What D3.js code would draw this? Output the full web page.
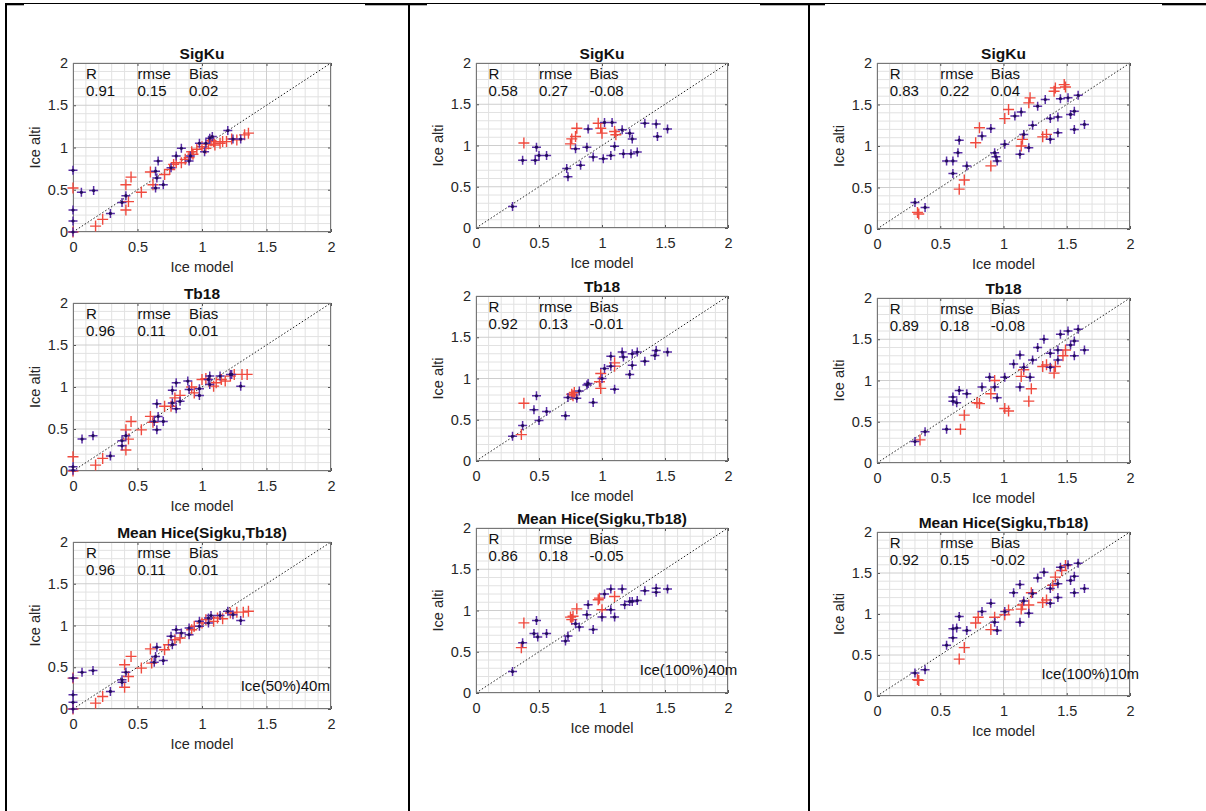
<!DOCTYPE html>
<html>
<head>
<meta charset="utf-8">
<script src="https://cdn.jsdelivr.net/npm/d3@7"></script>
<style>
  body { margin: 0; background: #fff; }
  svg { display: block; font-family: "Liberation Sans", Arial, Helvetica, sans-serif; }
</style>
</head>
<body>
<svg id="fig" width="1206" height="811"></svg>
<script>
// ---- Ice thickness comparison: altimetry retrieval vs. model ----
// Axis ticks shared by all panels
const tickValues = [0, 0.5, 1, 1.5, 2];
const rowTitles = ["SigKu", "Tb18", "Mean Hice(Sigku,Tb18)"];
const caseLabels = ["Ice(50%)40m", "Ice(100%)40m", "Ice(100%)10m"];
const xLabel = "Ice model";
const yLabel = "Ice alti";

// Scores, one list per case (rows: SigKu, Tb18, Mean)
const statR    = [[0.91, 0.96, 0.96], [0.58, 0.92, 0.86], [0.83, 0.89, 0.92]];
const statRmse = [[0.15, 0.11, 0.11], [0.27, 0.13, 0.18], [0.22, 0.18, 0.15]];
const statBias = [[0.02, 0.01, 0.01], [-0.08, -0.01, -0.05], [0.04, -0.08, -0.02]];

// Case 1: Ice(50%)40m  -- [model, alti]
const c1SigkuRed = [[0,0.52],[0,0],[0.175,0.07],[0.23,0.15],[0.41,0.56],[0.41,0.26],[0.43,0.36],[0.45,0.65],[0.53,0.47],[0.6,0.71],[0.62,0.56],[0.71,0.68],[0.75,0.74],[0.78,0.8],[0.8,0.82],[0.84,0.82],[0.87,0.86],[0.9,0.88],[0.92,0.95],[0.93,0.92],[0.96,0.98],[1.0,1.01],[1.03,0.99],[1.05,1.04],[1.07,1.08],[1.09,1.07],[1.1,1.03],[1.14,1.05],[1.16,1.07],[1.19,1.07],[1.23,1.1],[1.27,1.09],[1.33,1.15],[1.36,1.17]];
const c1SigkuBlue = [[0,0.73],[0,0.26],[0,0.13],[0,0],[0.065,0.47],[0.16,0.49],[0.29,0.22],[0.38,0.35],[0.41,0.43],[0.64,0.52],[0.64,0.72],[0.65,0.64],[0.66,0.84],[0.7,0.56],[0.76,0.76],[0.8,0.9],[0.84,0.99],[0.9,0.84],[0.91,0.9],[0.98,1.05],[1.02,0.95],[1.03,1.05],[1.06,1.11],[1.08,1.13],[1.2,1.2],[1.24,1.1],[1.3,1.1]];
const c1TbRed = [[0,0.17],[0,0],[0.175,0.07],[0.23,0.15],[0.41,0.49],[0.41,0.25],[0.43,0.38],[0.45,0.59],[0.53,0.49],[0.6,0.65],[0.62,0.58],[0.71,0.77],[0.76,0.77],[0.79,0.87],[0.83,0.9],[0.92,1.0],[0.94,0.93],[1.0,1.09],[1.03,1.1],[1.09,1.01],[1.11,1.05],[1.15,1.09],[1.18,1.07],[1.22,1.13],[1.25,1.15],[1.31,1.15],[1.35,1.15]];
const c1TbBlue = [[0,0.01],[0,0.05],[0.07,0.38],[0.155,0.42],[0.29,0.18],[0.38,0.3],[0.38,0.36],[0.41,0.42],[0.63,0.59],[0.65,0.8],[0.65,0.49],[0.66,0.65],[0.7,0.59],[0.77,0.81],[0.8,0.74],[0.8,1.05],[0.77,0.96],[0.83,0.83],[0.89,1.07],[0.9,0.97],[0.98,0.9],[0.98,0.98],[1.05,1.09],[1.06,1.13],[1.06,1.03],[1.14,1.13],[1.22,1.15],[1.23,1.15],[1.3,1.01]];
const c1MeanRed = [[0,0.37],[0,0],[0.175,0.07],[0.23,0.15],[0.4,0.53],[0.4,0.26],[0.43,0.39],[0.45,0.63],[0.53,0.49],[0.6,0.72],[0.61,0.55],[0.71,0.71],[0.74,0.77],[0.79,0.83],[0.83,0.85],[0.92,0.95],[0.94,0.99],[1.0,1.03],[1.03,1.07],[1.09,1.05],[1.12,1.09],[1.16,1.08],[1.22,1.15],[1.27,1.16],[1.32,1.16],[1.36,1.17]];
const c1MeanBlue = [[0,0.37],[0,0.17],[0,0.08],[0,0],[0.07,0.44],[0.155,0.46],[0.29,0.21],[0.38,0.35],[0.38,0.32],[0.41,0.44],[0.63,0.56],[0.65,0.74],[0.64,0.63],[0.7,0.58],[0.76,0.87],[0.77,0.77],[0.8,0.95],[0.84,0.91],[0.9,0.97],[0.9,0.89],[0.98,1.05],[0.98,0.99],[1.05,1.09],[1.07,1.12],[1.05,1.03],[1.14,1.12],[1.2,1.17],[1.24,1.13],[1.3,1.06]];

// Case 2: Ice(100%)40m
const c2SigkuRed = [[0.38,1.03],[0.75,1.02],[0.76,1.08],[0.79,1.11],[0.8,1.21],[0.97,1.27],[0.99,1.21],[1.0,1.15],[1.1,1.17],[1.11,1.13]];
const c2SigkuBlue = [[0.29,0.26],[0.37,0.82],[0.47,0.82],[0.48,0.98],[0.5,0.88],[0.56,0.88],[0.72,0.72],[0.73,0.62],[0.79,0.96],[0.83,0.76],[0.89,1.2],[0.88,0.98],[0.93,0.86],[1.02,1.28],[1.01,0.84],[1.08,1.28],[1.07,0.88],[1.1,0.99],[1.16,1.19],[1.17,0.9],[1.22,1.15],[1.24,1.08],[1.23,0.9],[1.28,0.92],[1.34,1.27],[1.43,1.26],[1.44,1.11],[1.52,1.2]];
const c2TbRed = [[0.36,0.32],[0.38,0.7],[0.76,0.81],[0.78,0.83],[0.77,0.79],[0.98,0.96],[0.99,1.06],[0.99,0.88],[1.1,1.19],[1.1,1.15]];
const c2TbBlue = [[0.29,0.3],[0.37,0.43],[0.46,0.62],[0.48,0.79],[0.5,0.49],[0.56,0.6],[0.71,0.55],[0.73,0.77],[0.8,0.76],[0.82,0.85],[0.89,0.94],[0.88,0.92],[0.93,0.71],[1.0,1.0],[1.02,1.12],[1.07,1.27],[1.07,1.15],[1.1,0.87],[1.16,1.32],[1.17,1.26],[1.22,1.05],[1.24,1.3],[1.24,1.16],[1.28,1.32],[1.34,1.21],[1.43,1.34],[1.42,1.28],[1.52,1.32]];
const c2MeanRed = [[0.36,0.55],[0.38,0.85],[0.75,0.92],[0.77,0.93],[0.76,0.89],[0.8,1.02],[0.97,1.13],[0.98,1.15],[1.0,1.01],[1.1,1.17]];
const c2MeanBlue = [[0.29,0.26],[0.37,0.61],[0.46,0.72],[0.48,0.88],[0.49,0.68],[0.56,0.72],[0.71,0.63],[0.73,0.69],[0.79,0.84],[0.82,0.8],[0.89,1.07],[0.88,0.95],[0.93,0.77],[1.02,1.2],[1.0,0.92],[1.07,1.26],[1.07,1.01],[1.1,0.92],[1.16,1.26],[1.18,1.07],[1.22,1.11],[1.24,1.11],[1.28,1.12],[1.34,1.24],[1.43,1.27],[1.43,1.22],[1.52,1.26]];

// Case 3: Ice(100%)10m
const c3SigkuRed = [[0.32,0.2],[0.33,0.18],[0.65,0.48],[0.69,0.59],[0.78,1.04],[0.81,1.22],[0.9,0.76],[1.01,1.33],[1.04,1.44],[1.14,1.0],[1.15,1.08],[1.2,1.52],[1.21,1.58],[1.31,1.11],[1.34,1.14],[1.4,1.66],[1.41,1.7],[1.48,1.74],[1.49,1.71]];
const c3SigkuBlue = [[0.3,0.32],[0.38,0.26],[0.55,0.82],[0.6,0.82],[0.6,0.67],[0.64,0.92],[0.65,1.07],[0.71,0.76],[0.83,1.12],[0.9,1.21],[0.93,0.92],[0.94,0.87],[0.95,0.82],[1.01,1.02],[1.09,1.36],[1.14,1.41],[1.13,0.9],[1.16,1.14],[1.2,0.98],[1.23,1.25],[1.27,1.48],[1.33,1.56],[1.37,1.08],[1.37,1.33],[1.43,1.35],[1.43,1.16],[1.45,1.57],[1.51,1.58],[1.53,1.38],[1.56,1.42],[1.56,1.2],[1.59,1.61],[1.64,1.26]];
const c3TbRed = [[0.34,0.28],[0.66,0.41],[0.69,0.58],[0.79,0.73],[0.81,0.72],[0.9,0.84],[0.93,1.0],[1.01,0.66],[1.04,0.63],[1.14,1.05],[1.16,1.13],[1.22,0.9],[1.2,0.75],[1.31,1.17],[1.34,1.19],[1.4,1.09],[1.41,1.17],[1.47,1.3],[1.49,1.37]];
const c3TbBlue = [[0.3,0.26],[0.38,0.38],[0.55,0.41],[0.6,0.8],[0.6,0.75],[0.63,0.73],[0.65,0.88],[0.71,0.84],[0.83,0.92],[0.89,1.04],[0.93,0.92],[0.95,0.79],[1.01,1.04],[1.08,1.2],[1.13,1.31],[1.13,0.92],[1.16,1.16],[1.21,1.04],[1.23,1.25],[1.27,1.4],[1.32,1.5],[1.37,1.16],[1.37,1.33],[1.43,1.37],[1.43,1.25],[1.45,1.56],[1.51,1.6],[1.53,1.43],[1.56,1.48],[1.56,1.3],[1.59,1.62],[1.64,1.37]];
const c3MeanRed = [[0.32,0.2],[0.33,0.19],[0.65,0.45],[0.69,0.59],[0.78,0.89],[0.8,0.96],[0.9,0.81],[0.93,0.96],[1.01,0.99],[1.04,1.05],[1.14,1.06],[1.15,1.11],[1.2,1.11],[1.22,1.26],[1.31,1.14],[1.34,1.17],[1.39,1.35],[1.41,1.45],[1.46,1.53],[1.49,1.59]];
const c3MeanBlue = [[0.3,0.28],[0.38,0.32],[0.55,0.62],[0.6,0.82],[0.6,0.71],[0.63,0.83],[0.65,0.97],[0.71,0.8],[0.83,1.03],[0.9,1.13],[0.93,0.9],[0.95,0.8],[1.01,1.03],[1.08,1.26],[1.13,1.36],[1.13,0.9],[1.16,1.16],[1.2,1.01],[1.23,1.25],[1.27,1.44],[1.32,1.51],[1.37,1.13],[1.37,1.31],[1.43,1.37],[1.43,1.2],[1.45,1.57],[1.51,1.6],[1.53,1.41],[1.56,1.46],[1.56,1.26],[1.59,1.62],[1.64,1.31]];

const redSets  = [[c1SigkuRed, c1TbRed, c1MeanRed], [c2SigkuRed, c2TbRed, c2MeanRed], [c3SigkuRed, c3TbRed, c3MeanRed]];
const blueSets = [[c1SigkuBlue, c1TbBlue, c1MeanBlue], [c2SigkuBlue, c2TbBlue, c2MeanBlue], [c3SigkuBlue, c3TbBlue, c3MeanBlue]];

// ---- page layout (pixel frames of each axes box) ----
const colFrames = [
  { left: 73,  right: 331,  tops: [63, 303, 542], bottoms: [232, 471, 709] },
  { left: 476, right: 728,  tops: [63, 296, 528], bottoms: [228, 461, 693] },
  { left: 877, right: 1130, tops: [63, 298, 532], bottoms: [229, 463, 696] }
];

const svg = d3.select("#fig");

// ---- table frame ----
const frame = svg.append("g").attr("class", "table-frame");
frame.append("line").attr("x1", 5).attr("x2", 1206).attr("y1", 3.5).attr("y2", 3.5)
  .attr("stroke", "#000").attr("stroke-width", 1);
[[5, 24], [365, 427], [760, 825], [1162, 1206]].forEach(([a, b]) => {
  frame.append("rect").attr("x", a).attr("y", 3).attr("width", b - a).attr("height", 2.3).attr("fill", "#000");
});
[6, 409, 809].forEach(x => {
  frame.append("line").attr("x1", x).attr("x2", x).attr("y1", 3).attr("y2", 811)
    .attr("stroke", "#000").attr("stroke-width", 2);
});

// ---- marker helpers ----
function plusPath(cx, cy, h) {
  return `M${cx - h},${cy}H${cx + h}M${cx},${cy - h}V${cy + h}`;
}

const textColor = "#262626";
const fmt2 = v => v.toFixed(2);

colFrames.forEach((cf, c) => {
  for (let r = 0; r < 3; r++) {
    const top = cf.tops[r], bottom = cf.bottoms[r];
    const x = d3.scaleLinear().domain([0, 2]).range([cf.left, cf.right]);
    const y = d3.scaleLinear().domain([0, 2]).range([bottom, top]);
    const g = svg.append("g").attr("class", `panel c${c} r${r}`);

    // background
    g.append("rect").attr("x", cf.left).attr("y", top)
      .attr("width", cf.right - cf.left).attr("height", bottom - top).attr("fill", "#fff");

    // minor grid
    const minor = d3.range(1, 20).map(i => i / 10).filter(v => Math.abs(v * 2 - Math.round(v * 2)) > 1e-6);
    g.append("g").selectAll("line.mx").data(minor).join("line")
      .attr("x1", d => x(d)).attr("x2", d => x(d)).attr("y1", top).attr("y2", bottom)
      .attr("stroke", "#e2e2e2").attr("stroke-width", 1);
    g.append("g").selectAll("line.my").data(minor).join("line")
      .attr("y1", d => y(d)).attr("y2", d => y(d)).attr("x1", cf.left).attr("x2", cf.right)
      .attr("stroke", "#e2e2e2").attr("stroke-width", 1);
    // major grid
    g.append("g").selectAll("line").data(tickValues).join("line")
      .attr("x1", d => x(d)).attr("x2", d => x(d)).attr("y1", top).attr("y2", bottom)
      .attr("stroke", "#cecece").attr("stroke-width", 1);
    g.append("g").selectAll("line").data(tickValues).join("line")
      .attr("y1", d => y(d)).attr("y2", d => y(d)).attr("x1", cf.left).attr("x2", cf.right)
      .attr("stroke", "#cecece").attr("stroke-width", 1);

    // 1:1 line
    g.append("line").attr("x1", x(0)).attr("y1", y(0)).attr("x2", x(2)).attr("y2", y(2))
      .attr("stroke", "#222").attr("stroke-width", 1).attr("stroke-dasharray", "1.5,2");

    // axes
    const fmtTick = d => String(d);
    const axB = g.append("g").attr("transform", `translate(0,${bottom})`)
      .call(d3.axisBottom(x).tickValues(tickValues).tickFormat(fmtTick).tickSize(-3).tickPadding(10));
    const axL = g.append("g").attr("transform", `translate(${cf.left},0)`)
      .call(d3.axisLeft(y).tickValues(tickValues).tickFormat(fmtTick).tickSize(-3).tickPadding(5));
    const axT = g.append("g").attr("transform", `translate(0,${top})`)
      .call(d3.axisTop(x).tickValues(tickValues).tickFormat("").tickSize(-3));
    const axR = g.append("g").attr("transform", `translate(${cf.right},0)`)
      .call(d3.axisRight(y).tickValues(tickValues).tickFormat("").tickSize(-3));
    [axB, axL, axT, axR].forEach(a => {
      a.select(".domain").remove();
      a.selectAll(".tick line").attr("stroke", "#555");
      a.selectAll(".tick text").attr("fill", textColor).style("font-size", "14.5px")
        .style("font-family", '"Liberation Sans", Arial, sans-serif');
    });

    // box
    g.append("rect").attr("x", cf.left + 0.5).attr("y", top + 0.5)
      .attr("width", cf.right - cf.left - 1).attr("height", bottom - top - 1)
      .attr("fill", "none").attr("stroke", "#777").attr("stroke-width", 1);

    // markers: red series, blue series on top
    g.append("path")
      .attr("d", redSets[c][r].map(p => plusPath(x(p[0]), y(p[1]), 5.5)).join(""))
      .attr("stroke", "#f04a3e").attr("stroke-width", 1.4).attr("fill", "none");
    g.append("path")
      .attr("d", blueSets[c][r].map(p => plusPath(x(p[0]), y(p[1]), 4.5)).join(""))
      .attr("stroke", "#5a2ea6").attr("stroke-width", 1.5).attr("fill", "none");
    g.append("g").selectAll("circle").data(blueSets[c][r]).join("circle")
      .attr("cx", d => x(d[0])).attr("cy", d => y(d[1])).attr("r", 1.6).attr("fill", "#220c5c");

    // title
    g.append("text").attr("x", (cf.left + cf.right) / 2).attr("y", top - 4)
      .attr("text-anchor", "middle").attr("font-weight", "bold").attr("font-size", 15.5)
      .attr("fill", "#111").text(rowTitles[r]);

    // axis labels
    g.append("text").attr("x", (cf.left + cf.right) / 2).attr("y", bottom + 35)
      .attr("text-anchor", "middle").attr("dominant-baseline", "central")
      .attr("font-size", 14.5).attr("fill", textColor).text(xLabel);
    g.append("text")
      .attr("transform", `translate(${cf.left - 38},${(top + bottom) / 2}) rotate(-90)`)
      .attr("text-anchor", "middle").attr("dominant-baseline", "central")
      .attr("font-size", 14.5).attr("fill", textColor).text(yLabel);

    // score table in the upper-left corner
    const stats = [["R", statR[c][r]], ["rmse", statRmse[c][r]], ["Bias", statBias[c][r]]];
    const statX = [0.1, 0.5, 0.9];
    stats.forEach(([name, val], i) => {
      g.append("text").attr("x", x(statX[i])).attr("y", y(1.87))
        .attr("dominant-baseline", "central").attr("font-size", 15).attr("fill", "#111").text(name);
      g.append("text").attr("x", x(statX[i])).attr("y", y(1.67))
        .attr("dominant-baseline", "central").attr("font-size", 15).attr("fill", "#111").text(fmt2(val));
    });

    // case label on the bottom panel
    if (r === 2) {
      g.append("text").attr("x", x(1.3)).attr("y", y(0.28))
        .attr("dominant-baseline", "central").attr("font-size", 15).attr("fill", "#111")
        .text(caseLabels[c]);
    }
  }
});
</script>
</body>
</html>
